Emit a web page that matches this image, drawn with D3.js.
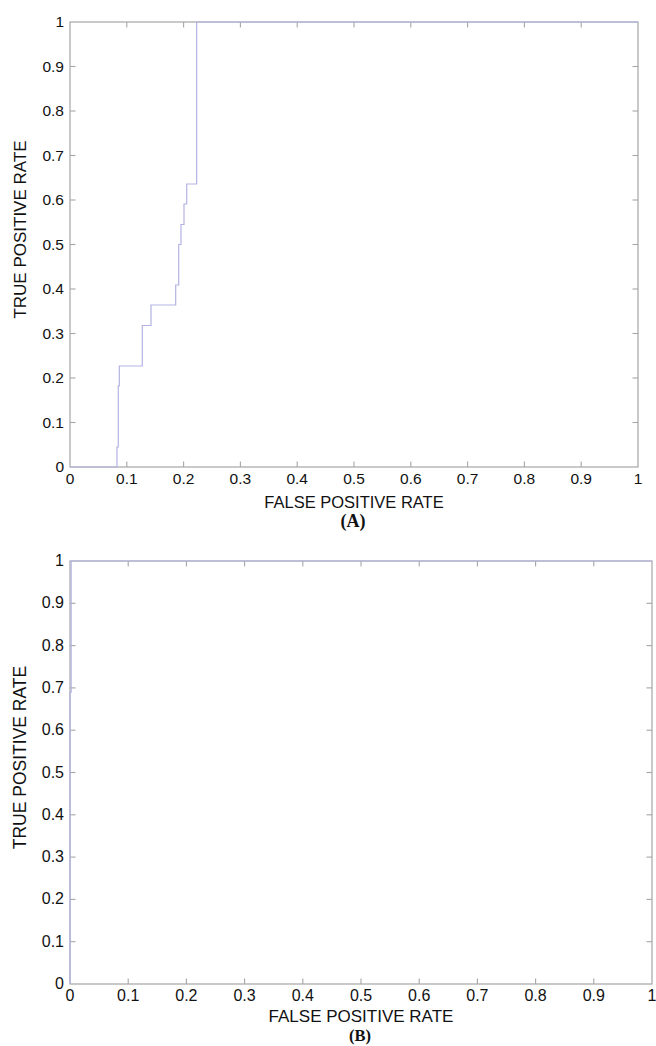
<!DOCTYPE html>
<html>
<head>
<meta charset="utf-8">
<script src="https://cdn.jsdelivr.net/npm/d3@7/dist/d3.min.js"></script>
<style>
  html, body { margin: 0; padding: 0; background: #fff; }
  svg { display: block; }
  text { font-family: "Liberation Sans", Arial, Helvetica, sans-serif; fill: #111; }
</style>
</head>
<body>
<svg id="chart" width="656" height="1046"></svg>
<script>
// ---------- data ----------
const tickValues = [0, 0.1, 0.2, 0.3, 0.4, 0.5, 0.6, 0.7, 0.8, 0.9, 1];
const tickLabels = ["0", "0.1", "0.2", "0.3", "0.4", "0.5", "0.6", "0.7", "0.8", "0.9", "1"];

// Panel A ROC curve (false positive rate, true positive rate)
const fprA = [0, 0.0827, 0.0827, 0.085, 0.085, 0.0868, 0.0868, 0.1273, 0.1273, 0.1426, 0.1426,
              0.1861, 0.1861, 0.1914, 0.1914, 0.1954, 0.1954, 0.2007, 0.2007, 0.2055, 0.2055,
              0.223, 0.223, 1];
const tprA = [0, 0, 0.045, 0.045, 0.182, 0.182, 0.227, 0.227, 0.318, 0.318, 0.364,
              0.364, 0.409, 0.409, 0.5, 0.5, 0.545, 0.545, 0.591, 0.591, 0.636,
              0.636, 1, 1];

// Panel B ROC curve
const fprB = [0, 0, 0.002, 0.002, 1];
const tprB = [0, 0.69, 0.69, 1, 1];

const xLabel = "FALSE POSITIVE RATE";
const yLabel = "TRUE POSITIVE RATE";
const panelTitles = ["(A)", "(B)"];

// ---------- drawing ----------
const svg = d3.select("#chart");
const axisColor = "#a6a6a6";
const curveColor = "#b3b3e3";

const panels = [
  { fpr: fprA, tpr: tprA, title: panelTitles[0], left: 70, right: 638, top: 22, bottom: 467,
    tickFont: 15.5, labelFont: 16.5, labelOffset: 41, titleOffset: 60, titleFont: 18 },
  { fpr: fprB, tpr: tprB, title: panelTitles[1], left: 70, right: 652, top: 561, bottom: 984,
    tickFont: 16, labelFont: 17, labelOffset: 38, titleOffset: 57, titleFont: 16.5 }
];

panels.forEach(p => {
  const x = d3.scaleLinear().domain([0, 1]).range([p.left, p.right]);
  const y = d3.scaleLinear().domain([0, 1]).range([p.bottom, p.top]);
  const g = svg.append("g");
  const tl = 5.5;

  // box
  g.append("rect")
    .attr("x", p.left).attr("y", p.top)
    .attr("width", p.right - p.left).attr("height", p.bottom - p.top)
    .attr("fill", "none").attr("stroke", axisColor).attr("stroke-width", 1.2);

  // inward ticks on all four sides
  const inner = tickValues.slice(1, -1);
  g.selectAll(".tb").data(inner).enter().append("line")
    .attr("x1", d => x(d)).attr("x2", d => x(d))
    .attr("y1", p.bottom).attr("y2", p.bottom - tl)
    .attr("stroke", axisColor).attr("stroke-width", 1.1);
  g.selectAll(".tt").data(inner).enter().append("line")
    .attr("x1", d => x(d)).attr("x2", d => x(d))
    .attr("y1", p.top).attr("y2", p.top + tl)
    .attr("stroke", axisColor).attr("stroke-width", 1.1);
  g.selectAll(".tlft").data(inner).enter().append("line")
    .attr("x1", p.left).attr("x2", p.left + tl)
    .attr("y1", d => y(d)).attr("y2", d => y(d))
    .attr("stroke", axisColor).attr("stroke-width", 1.1);
  g.selectAll(".trt").data(inner).enter().append("line")
    .attr("x1", p.right).attr("x2", p.right - tl)
    .attr("y1", d => y(d)).attr("y2", d => y(d))
    .attr("stroke", axisColor).attr("stroke-width", 1.1);

  // tick labels
  g.selectAll(".xl").data(tickValues).enter().append("text")
    .attr("x", d => x(d)).attr("y", p.bottom + 17)
    .attr("text-anchor", "middle")
    .style("font-size", p.tickFont + "px")
    .text((d, i) => tickLabels[i]);
  g.selectAll(".yl").data(tickValues).enter().append("text")
    .attr("x", p.left - 6).attr("y", d => y(d) + 5)
    .attr("text-anchor", "end")
    .style("font-size", p.tickFont + "px")
    .text((d, i) => tickLabels[i]);

  // axis labels
  g.append("text")
    .attr("x", (p.left + p.right) / 2).attr("y", p.bottom + p.labelOffset)
    .attr("text-anchor", "middle")
    .style("font-size", p.labelFont + "px")
    .text(xLabel);
  g.append("text")
    .attr("transform", `translate(${26},${(p.top + p.bottom) / 2 - 15}) rotate(-90)`)
    .attr("text-anchor", "middle")
    .style("font-size", (p.labelFont + 0.5) + "px")
    .text(yLabel);

  // panel title
  g.append("text")
    .attr("x", (p.left + p.right) / 2 - 1).attr("y", p.bottom + p.titleOffset)
    .attr("text-anchor", "middle")
    .style("font-family", "'Liberation Serif', 'Times New Roman', serif")
    .style("font-weight", "bold")
    .style("font-size", p.titleFont + "px")
    .text(p.title);

  // curve
  const pts = p.fpr.map((f, i) => [f, p.tpr[i]]);
  const line = d3.line().x(d => x(d[0])).y(d => y(d[1]));
  g.append("path")
    .attr("d", line(pts))
    .attr("fill", "none")
    .attr("stroke", curveColor)
    .attr("stroke-width", 1.2);
});
</script>
</body>
</html>
